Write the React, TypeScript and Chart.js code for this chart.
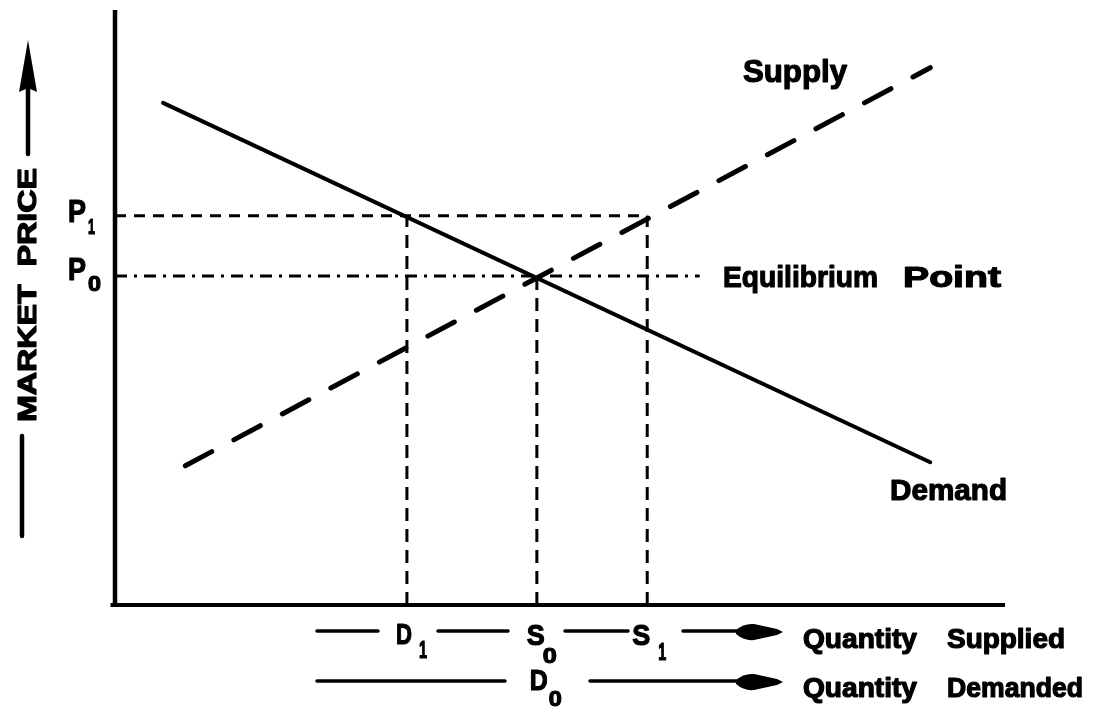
import React, { useEffect, useRef } from 'react';
import { Chart, registerables } from 'chart.js';

Chart.register(...registerables);

// ---- data ----
const demandQuantity = [5.4, 91.6];
const demandPrice = [84.4, 24.0];
const supplyQuantity = [7.9, 91.6];
const supplyPrice = [23.4, 90.3];
const priceLabels = ['P', 'P'];
const priceSubscripts = ['1', '0'];
const priceLevels = [65.4, 55.3];
const quantityLabels = ['D', 'S', 'S'];
const quantitySubscripts = ['1', '0', '1'];
const quantityLevels = [32.8, 47.4, 59.8];
const quantityGuideTop = [65.4, 55.3, 65.4];
const equilibriumGuideEnd = 65.7;
const axisRange = [0, 100];

const FONT = '"Liberation Sans", Arial, sans-serif';

function fitText(ctx: CanvasRenderingContext2D, text: string, left: number, baseline: number, width: number, size: number, heavy = 1.2) {
  ctx.save();
  ctx.font = `bold ${size}px ${FONT}`;
  const w = ctx.measureText(text).width || 1;
  ctx.translate(left, baseline);
  ctx.scale(width / w, 1);
  ctx.textAlign = 'left';
  ctx.textBaseline = 'alphabetic';
  ctx.fillStyle = '#000';
  ctx.fillText(text, 0, 0);
  if (heavy > 0) {
    ctx.strokeStyle = '#000';
    ctx.lineWidth = heavy;
    ctx.lineJoin = 'round';
    ctx.strokeText(text, 0, 0);
  }
  ctx.restore();
}

function hLine(ctx: CanvasRenderingContext2D, x1: number, x2: number, y: number, w = 3.5) {
  ctx.save();
  ctx.strokeStyle = '#000';
  ctx.lineWidth = w;
  ctx.lineCap = 'round';
  ctx.beginPath();
  ctx.moveTo(x1, y);
  ctx.lineTo(x2, y);
  ctx.stroke();
  ctx.restore();
}

function arrowHeadRight(ctx: CanvasRenderingContext2D, x0: number, tip: number, y: number) {
  ctx.save();
  ctx.fillStyle = '#000';
  ctx.beginPath();
  ctx.moveTo(x0, y - 2);
  ctx.quadraticCurveTo(x0 + 8, y - 9, x0 + 18, y - 8);
  ctx.lineTo(tip - 6, y - 3);
  ctx.lineTo(tip, y);
  ctx.lineTo(tip - 6, y + 3);
  ctx.lineTo(x0 + 18, y + 8);
  ctx.quadraticCurveTo(x0 + 8, y + 9, x0, y + 2);
  ctx.closePath();
  ctx.fill();
  ctx.restore();
}

const annotationPlugin = {
  id: 'econAnnotations',
  afterDraw(chart: any) {
    const ctx: CanvasRenderingContext2D = chart.ctx;
    const xs = chart.scales.x;
    const ys = chart.scales.y;

    // Curve labels
    fitText(ctx, 'Supply', 743, 82, 104, 31);
    fitText(ctx, 'Equilibrium', 723, 287, 155, 30);
    fitText(ctx, 'Point', 903, 287, 98, 30);
    fitText(ctx, 'Demand', 890, 500, 117, 30);

    // Price labels on the y axis
    priceLevels.forEach((p, i) => {
      const py = ys.getPixelForValue(p);
      const base = i === 0 ? py + 6 : py + 4;
      fitText(ctx, priceLabels[i], 68, base, 18, 32);
      if (i === 0) fitText(ctx, priceSubscripts[i], 88, base + 12, 7, 22);
      else fitText(ctx, priceSubscripts[i], 88, base + 11, 13, 22);
    });

    const row1 = 631;
    const row2 = 681;
    const qx = quantityLevels.map((q) => xs.getPixelForValue(q));

    // Quantity labels row 1 (supplied)
    hLine(ctx, 317, 378, row1);
    fitText(ctx, quantityLabels[0], qx[0] - 11, row1 + 13, 16, 30);
    fitText(ctx, quantitySubscripts[0], qx[0] + 12, row1 + 27, 8, 24);
    hLine(ctx, 438, 508, row1);
    fitText(ctx, quantityLabels[1], qx[1] - 10, row1 + 14, 18, 30);
    fitText(ctx, quantitySubscripts[1], qx[1] + 6, row1 + 32, 14, 22);
    hLine(ctx, 565, 628, row1);
    fitText(ctx, quantityLabels[2], qx[2] - 15, row1 + 14, 18, 30);
    fitText(ctx, quantitySubscripts[2], qx[2] + 11, row1 + 29, 8, 24);
    hLine(ctx, 683, 745, row1);
    arrowHeadRight(ctx, 736, 783, row1 + 1);
    fitText(ctx, 'Quantity', 803, 648, 114, 27);
    fitText(ctx, 'Supplied', 947, 648, 118, 27);

    // Quantity labels row 2 (demanded)
    hLine(ctx, 317, 505, row2);
    fitText(ctx, 'D', qx[1] - 7, row2 + 9, 18, 30);
    fitText(ctx, '0', qx[1] + 12, row2 + 25, 13, 22);
    hLine(ctx, 590, 745, row2);
    arrowHeadRight(ctx, 736, 783, row2 + 1);
    fitText(ctx, 'Quantity', 803, 697, 114, 27);
    fitText(ctx, 'Demanded', 947, 697, 136, 27);

    // Y axis title with arrow
    ctx.save();
    ctx.translate(36, 422);
    ctx.rotate(-Math.PI / 2);
    fitText(ctx, 'MARKET  PRICE', 0, 0, 254, 25);
    ctx.restore();
    ctx.save();
    ctx.strokeStyle = '#000';
    ctx.lineWidth = 4.5;
    ctx.lineCap = 'round';
    ctx.beginPath();
    ctx.moveTo(28, 154);
    ctx.lineTo(28, 85);
    ctx.moveTo(22, 436);
    ctx.lineTo(22, 536);
    ctx.stroke();
    ctx.fillStyle = '#000';
    ctx.beginPath();
    ctx.moveTo(28, 40);
    ctx.lineTo(37, 92);
    ctx.lineTo(28, 88);
    ctx.lineTo(19, 92);
    ctx.closePath();
    ctx.fill();
    ctx.restore();
  },
};

function line(data: { x: number; y: number }[], width: number, dash: number[] = [], cap: string = 'butt') {
  return {
    data,
    showLine: true,
    borderColor: '#000',
    backgroundColor: '#000',
    borderWidth: width,
    borderDash: dash,
    borderCapStyle: cap,
    pointRadius: 0,
    pointHoverRadius: 0,
    fill: false,
    tension: 0,
    clip: false,
  };
}

export default function App() {
  const ref = useRef<HTMLCanvasElement | null>(null);
  useEffect(() => {
    document.body.style.margin = '0';
    document.body.style.background = '#fff';
    const canvas = ref.current!;
    const datasets: any[] = [
      line([{ x: axisRange[0], y: axisRange[0] }, { x: axisRange[0], y: axisRange[1] }], 4.5),
      line([{ x: axisRange[0] - 0.5, y: axisRange[0] }, { x: axisRange[1], y: axisRange[0] }], 4),
      line([{ x: axisRange[0], y: priceLevels[0] }, { x: quantityLevels[2], y: priceLevels[0] }], 3, [11, 8]),
      line([{ x: axisRange[0], y: priceLevels[1] }, { x: equilibriumGuideEnd, y: priceLevels[1] }], 3, [12, 7, 3, 7]),
      ...quantityLevels.map((q, i) => line([{ x: q, y: axisRange[0] }, { x: q, y: quantityGuideTop[i] }], 3, [13, 8])),
      line(demandQuantity.map((q, i) => ({ x: q, y: demandPrice[i] })), 4, [], 'round'),
      line(supplyQuantity.map((q, i) => ({ x: q, y: supplyPrice[i] })), 5, [30, 25], 'round'),
    ];
    const chart = new Chart(canvas, {
      type: 'scatter',
      data: { datasets },
      options: {
        animation: false,
        responsive: false,
        devicePixelRatio: 1,
        layout: { padding: { left: 115, right: 91, top: 10, bottom: 103 } },
        plugins: { legend: { display: false }, tooltip: { enabled: false } },
        events: [],
        scales: {
          x: { type: 'linear', min: axisRange[0], max: axisRange[1], display: false },
          y: { type: 'linear', min: axisRange[0], max: axisRange[1], display: false },
        },
      } as any,
      plugins: [annotationPlugin],
    });
    return () => chart.destroy();
  }, []);
  return (
    <div style={{ width: 1096, height: 708, background: '#fff' }}>
      <canvas ref={ref} width={1096} height={708} style={{ display: 'block', width: 1096, height: 708 }} />
    </div>
  );
}
